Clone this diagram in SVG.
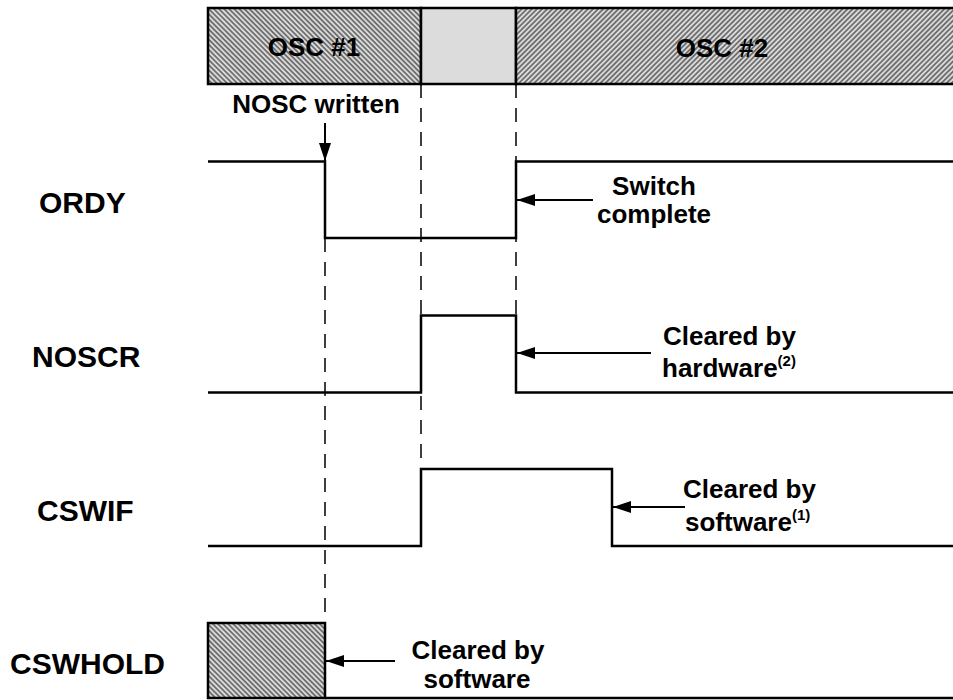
<svg xmlns="http://www.w3.org/2000/svg" width="953" height="700" viewBox="0 0 953 700">
<defs>
<style>
.lbl{font-family:"Liberation Sans",Arial,sans-serif;font-weight:bold;font-size:30px;fill:#000}
.ann{font-family:"Liberation Sans",Arial,sans-serif;font-weight:bold;font-size:26px;fill:#000}
.sup{font-size:15px}
.wave{fill:none;stroke:#000;stroke-width:2.5}
.dash{fill:none;stroke:#000;stroke-width:1.5;stroke-dasharray:14 10}
.arr{fill:none;stroke:#000;stroke-width:2;marker-end:url(#ah)}
.box{stroke:#000;stroke-width:2.5}
</style>
<pattern id="hb" width="3.6" height="3.6" patternUnits="userSpaceOnUse" patternTransform="rotate(-45)">
<rect width="3.6" height="3.6" fill="#dadada"/>
<line x1="0.9" y1="0" x2="0.9" y2="3.6" stroke="#5a5a5a" stroke-width="1.5"/>
</pattern>
<pattern id="hf" width="3.6" height="3.6" patternUnits="userSpaceOnUse" patternTransform="rotate(45)">
<rect width="3.6" height="3.6" fill="#dadada"/>
<line x1="0.9" y1="0" x2="0.9" y2="3.6" stroke="#5a5a5a" stroke-width="1.5"/>
</pattern>
<marker id="ah" viewBox="0 0 18 12" refX="18" refY="6" markerWidth="18" markerHeight="12" markerUnits="userSpaceOnUse" orient="auto">
<path d="M0,0 L18,6 L0,12 Z" fill="#000"/>
</marker>
</defs>
<rect width="953" height="700" fill="#fff"/>

<g id="osc-bar">
<rect class="box" x="208" y="8" width="213" height="76" fill="url(#hb)"/>
<rect class="box" x="421" y="8" width="95" height="76" fill="#dcdcdc"/>
<rect class="box" x="516" y="8" width="440" height="76" fill="url(#hf)"/>
<text class="ann" x="314" y="56" text-anchor="middle">OSC #1</text>
<text class="ann" x="722" y="57" text-anchor="middle">OSC #2</text>
</g>

<g id="ordy">
<text class="lbl" x="39" y="213">ORDY</text>
<polyline class="wave" points="208,161.5 325,161.5 325,238 516,238 516,161.5 953,161.5"/>
</g>

<g id="noscr">
<text class="lbl" x="32" y="367">NOSCR</text>
<polyline class="wave" points="208,392.5 421,392.5 421,315.5 516,315.5 516,392.5 953,392.5"/>
</g>

<g id="cswif">
<text class="lbl" x="37" y="521">CSWIF</text>
<polyline class="wave" points="208,546 421,546 421,469 612,469 612,546 953,546"/>
</g>

<g id="cswhold">
<text class="lbl" x="10" y="674">CSWHOLD</text>
<rect class="box" x="208" y="623" width="117" height="75" fill="url(#hb)"/>
<line class="wave" x1="325" y1="698" x2="953" y2="698"/>
</g>

<g id="connectors">
<line class="dash" x1="325" y1="238" x2="325" y2="623"/>
<line class="dash" x1="421" y1="84" x2="421" y2="469"/>
<line class="dash" x1="516" y1="84" x2="516" y2="316"/>
<line class="arr" x1="325" y1="123" x2="325" y2="161"/>
<line class="arr" x1="593" y1="200" x2="517" y2="200"/>
<line class="arr" x1="651" y1="353" x2="517" y2="353"/>
<line class="arr" x1="685" y1="507" x2="613" y2="507"/>
<line class="arr" x1="395" y1="661" x2="326" y2="661"/>
</g>

<g id="annotations">
<text class="ann" x="316" y="113" text-anchor="middle">NOSC written</text>
<text class="ann" x="654" y="195" text-anchor="middle">Switch</text>
<text class="ann" x="654" y="223" text-anchor="middle">complete</text>
<text class="ann" x="663" y="345">Cleared by</text>
<text class="ann" x="662" y="377">hardware<tspan class="sup" dy="-11">(2)</tspan></text>
<text class="ann" x="683" y="498">Cleared by</text>
<text class="ann" x="685" y="531">software<tspan class="sup" dy="-11">(1)</tspan></text>
<text class="ann" x="478" y="659" text-anchor="middle">Cleared by</text>
<text class="ann" x="477" y="688" text-anchor="middle">software</text>
</g>
</svg>
